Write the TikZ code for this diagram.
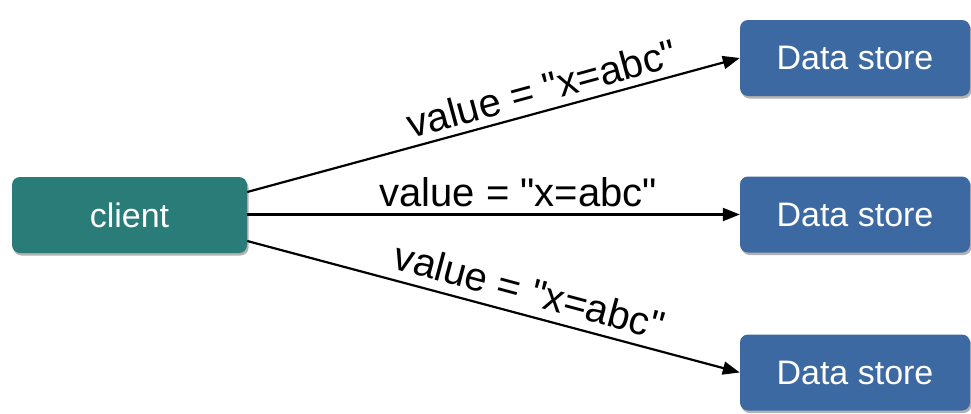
\documentclass[tikz,border=0pt]{standalone}
\usepackage{fontspec}
\setmainfont{Liberation Sans}
\newfontfamily\labelfont{Liberation Sans}
\usetikzlibrary{arrows.meta,shadows}

\definecolor{clientteal}{RGB}{42,124,120}
\definecolor{storeblue}{RGB}{61,105,163}

\begin{document}
\begin{tikzpicture}[x=1pt,y=-1pt,>={Triangle[length=17pt,width=13pt]},
    box/.style={rounded corners=8pt, inner sep=0pt, text=white,
        font=\fontsize{34}{40}\selectfont,
        drop shadow={shadow xshift=1.5pt, shadow yshift=-2.5pt, opacity=0.3, fill=black}},
    clientbox/.style={box, fill=clientteal, minimum width=235pt, minimum height=76pt},
    storebox/.style={box, fill=storeblue, minimum width=230pt, minimum height=76pt},
    flow/.style={->, line width=2.2pt, black},
    valuelabel/.style={sloped, above=5pt, inner sep=2pt, text=black,
        font=\labelfont\fontsize{40}{46}\selectfont}]

    % --- White canvas (fixes the margins) ---
    \fill[white] (0,0) rectangle (971,413);
    \useasboundingbox (0,0) rectangle (971,413);

    % --- Boxes ---
    \node[clientbox] (client) at (129.5,215) {client};
    \node[storebox] (storeA) at (855,58) {Data store};
    \node[storebox] (storeB) at (855,214.5) {Data store};
    \node[storebox] (storeC) at (855,372.5) {Data store};

    % --- Writes ---
    \draw[flow] ([yshift=23pt]client.east) -- (storeA.west)
        node[valuelabel, pos=0.61] (labelA) {value = "x=abc"};
    \draw[flow] (client.east |- storeB.west) -- (storeB.west)
        node[valuelabel, pos=0.55] (labelB) {value = "x=abc"};
    \draw[flow] ([yshift=-26pt]client.east) -- (storeC.west)
        node[valuelabel, pos=0.56, above=2pt] (labelC) {value = "x=abc"};

\end{tikzpicture}
\end{document}
